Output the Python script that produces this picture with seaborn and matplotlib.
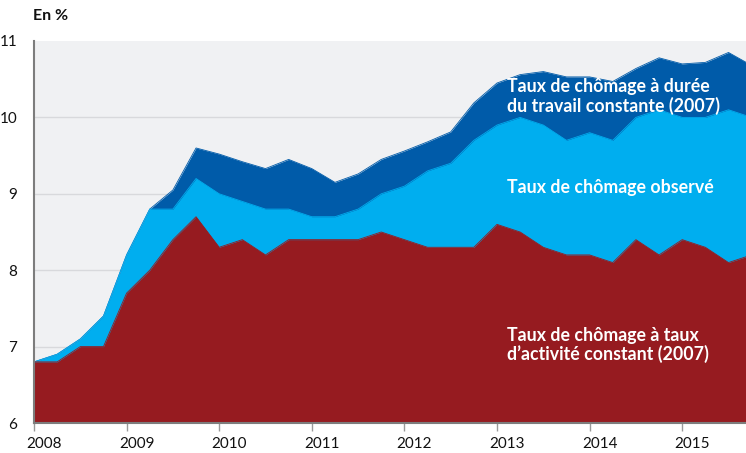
import numpy as np
import pandas as pd
import matplotlib
matplotlib.use("Agg")
import matplotlib.pyplot as plt
import seaborn as sns

# trimestres 2008T1 .. 2015T4
quarters = [2008 + i * 0.25 for i in range(32)]

# taux de chômage à taux d'activité constant (2007)
taux_activite_constant = [6.8, 6.8, 7.0, 7.0, 7.7, 8.0, 8.4, 8.7,
                          8.3, 8.4, 8.2, 8.4, 8.4, 8.4, 8.4, 8.5,
                          8.4, 8.3, 8.3, 8.3, 8.6, 8.5, 8.3, 8.2,
                          8.2, 8.1, 8.4, 8.2, 8.4, 8.3, 8.1, 8.2]
# taux de chômage observé
taux_observe = [6.8, 6.9, 7.1, 7.4, 8.2, 8.8, 8.8, 9.2,
                9.0, 8.9, 8.8, 8.8, 8.7, 8.7, 8.8, 9.0,
                9.1, 9.3, 9.4, 9.7, 9.9, 10.0, 9.9, 9.7,
                9.8, 9.7, 10.0, 10.1, 10.0, 10.0, 10.1, 10.0]
# taux de chômage à durée du travail constante (2007)
taux_duree_constante = [6.8, 6.9, 7.1, 7.4, 8.2, 8.8, 9.05, 9.6,
                        9.52, 9.42, 9.33, 9.45, 9.33, 9.15, 9.26, 9.45,
                        9.56, 9.68, 9.81, 10.19, 10.45, 10.56, 10.6, 10.53,
                        10.53, 10.47, 10.64, 10.78, 10.7, 10.72, 10.85, 10.68]

years = [2008, 2009, 2010, 2011, 2012, 2013, 2014, 2015]
y_ticks = [6, 7, 8, 9, 10, 11]

labels = {
    "duree": "Taux de chômage à durée\ndu travail constante (2007)",
    "observe": "Taux de chômage observé",
    "activite": "Taux de chômage à taux\nd\u2019activité constant (2007)",
}

RED = "#961b20"
LIGHT = "#00aeef"
DARK = "#005ba9"
BG = "#f0f1f3"


def main():
    sns.set_theme(style="white")
    plt.rcParams["font.family"] = ["Lato", "DejaVu Sans"]

    df = pd.DataFrame({
        "t": quarters,
        "duree": taux_duree_constante,
        "observe": taux_observe,
        "activite": taux_activite_constant,
    })

    W, H = 746, 453
    fig = plt.figure(figsize=(W / 100, H / 100), dpi=100)
    left, right, bottom, top = 34, 746, 423, 41
    ax = fig.add_axes([left / W, 1 - bottom / H, (right - left) / W, (bottom - top) / H])
    ax.set_facecolor(BG)

    for col, color in [("duree", DARK), ("observe", LIGHT), ("activite", RED)]:
        ax.fill_between(df["t"], 6, df[col], color=color, lw=0, zorder=2)
        sns.lineplot(data=df, x="t", y=col, ax=ax, color=color, lw=0.6, zorder=2)

    px_per_year = 92.6
    ax.set_xlim(2008, 2008 + (right - left) / px_per_year)
    ax.set_ylim(6, 11)

    # traits aux années, libellés un peu décalés vers la droite (comme l'original)
    ax.set_xticks(years)
    ax.set_xticklabels([])
    ax.set_xticks([y + 10 / px_per_year for y in years], minor=True)
    ax.set_xticklabels([str(y) for y in years], minor=True, fontsize=11)
    ax.set_yticks(y_ticks)
    ax.set_yticklabels([str(y) for y in y_ticks], fontsize=11)
    ax.set_xlabel("")
    ax.set_ylabel("")

    for v in [7, 8, 9, 10]:
        ax.axhline(v, color="#d8d9dc", lw=1.0, zorder=1)

    for s in ["top", "right"]:
        ax.spines[s].set_visible(False)
    for s in ["left", "bottom"]:
        ax.spines[s].set_color("#7d7d7d")
        ax.spines[s].set_linewidth(1.5)
        ax.spines[s].set_zorder(3)

    ax.tick_params(axis="x", which="major", bottom=True, length=6, width=1, color="#9a9a9a")
    ax.tick_params(axis="x", which="minor", bottom=True, length=0, pad=10, labelcolor="#111111")
    ax.tick_params(axis="y", left=False, pad=6, labelcolor="#111111")

    tx = 2008 + (507 - left) / px_per_year
    kw = dict(color="white", fontsize=12.8, fontweight="bold", ha="left", va="center",
              linespacing=1.1, zorder=4)
    ax.text(tx, 10.27, labels["duree"], **kw)
    ax.text(tx, 9.08, labels["observe"], **kw)
    ax.text(tx, 7.02, labels["activite"], **kw)

    fig.text(33 / W, 1 - 16 / H, "En %", fontsize=11.5, fontweight="bold",
             ha="left", va="center", color="#111111")

    fig.savefig("out.png", dpi=100)
    plt.close(fig)


if __name__ == "__main__":
    main()
